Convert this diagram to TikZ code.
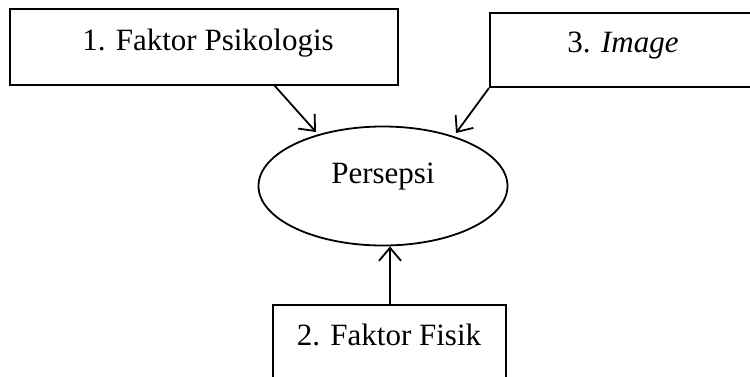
\documentclass[tikz,border=0pt]{standalone}
\usepackage{fontspec}
\setmainfont{Liberation Serif}
\usetikzlibrary{arrows.meta,shapes.geometric}
\begin{document}
\begin{tikzpicture}[x=1pt,y=-1pt,
  box/.style={draw,line width=2pt,rectangle,inner sep=0pt},
  oval/.style={draw,line width=1.8pt,ellipse,inner sep=0pt},
  lbl/.style={font=\fontsize{31}{36}\selectfont,inner sep=0pt,anchor=base},
  conn/.style={line width=1.8pt,-{Straight Barb[length=13pt,width=22pt,line width=1.8pt]}}]
\useasboundingbox (0,0) rectangle (750,376);
\clip (0,0) rectangle (750,376);
\node[box,minimum width=388pt,minimum height=76pt] (b1) at (204,47) {};
\node[lbl] (t1) at (208,50) {1. Faktor Psikologis};
\node[box,minimum width=280pt,minimum height=74pt] (b3) at (630,50) {};
\node[lbl] (t3) at (623,52) {3. \textit{Image}};
\node[oval,minimum width=249pt,minimum height=119pt] (e) at (383,186) {};
\node[lbl] (te) at (383,183) {Persepsi};
\node[box,minimum width=233pt,minimum height=100pt] (b2) at (389.5,355) {};
\node[lbl] (t2) at (389,345) {2. Faktor Fisik};
\coordinate (s1) at (274,85);
\coordinate (e1) at (316,132);
\coordinate (e3) at (456,133);
\draw[conn] (s1) -- (e1);
\draw[conn] (b3.south west) -- (e3);
\draw[conn] (b2.north -| 390,0) -- (e.south -| 390,0);
\end{tikzpicture}
\end{document}
